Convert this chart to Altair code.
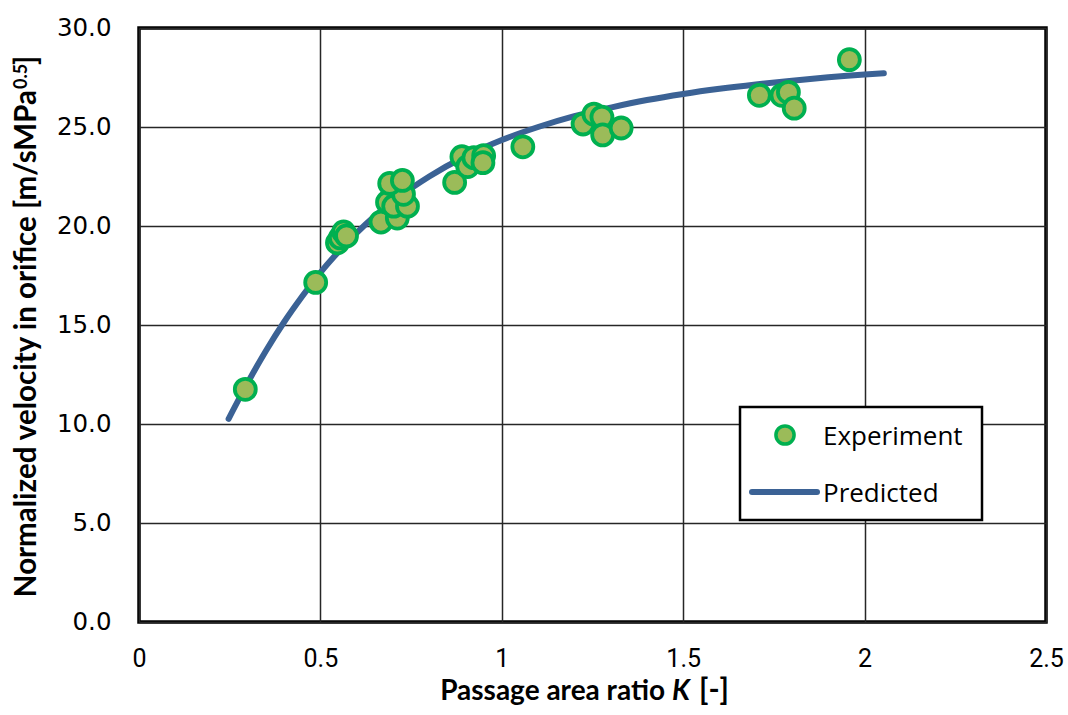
import altair as alt
import pandas as pd

# ---------------- data ----------------
exp_k = [0.293, 0.487, 0.547, 0.555, 0.564, 0.572, 0.667, 0.712, 0.685, 0.702,
         0.740, 0.729, 0.691, 0.726, 0.870, 0.890, 0.906, 0.923, 0.950, 0.948,
         1.058, 1.224, 1.254, 1.276, 1.278, 1.329, 1.710, 1.772, 1.790, 1.806,
         1.958]
exp_v = [11.75, 17.15, 19.15, 19.40, 19.70, 19.50, 20.20, 20.40, 21.20, 21.00,
         21.00, 21.60, 22.15, 22.30, 22.20, 23.50, 23.00, 23.45, 23.55, 23.20,
         24.00, 25.15, 25.65, 25.50, 24.60, 24.95, 26.60, 26.60, 26.75, 25.95,
         28.40]

pred_k = [0.247, 0.30, 0.35, 0.40, 0.45, 0.50, 0.55, 0.60, 0.65, 0.70, 0.75,
          0.80, 0.90, 1.00, 1.10, 1.20, 1.30, 1.40, 1.50, 1.60, 1.70, 1.80,
          1.90, 2.00, 2.053]
pred_v = [10.26, 12.10, 13.70, 15.15, 16.45, 17.65, 18.70, 19.65, 20.50, 21.25,
          21.90, 22.50, 23.52, 24.34, 25.00, 25.55, 25.98, 26.36, 26.67, 26.93,
          27.15, 27.34, 27.51, 27.65, 27.71]

x_ticks = [0, 0.5, 1, 1.5, 2, 2.5]
y_ticks = [0, 5, 10, 15, 20, 25, 30]

legend_labels = ["Experiment", "Predicted"]
x_title_parts = ["Passage area ratio", "K", "[-]"]
y_title_parts = ["Normalized velocity in orifice [m/sMPa", "0.5", "]"]

# ---------------- layout ----------------
W, H = 907, 594
PAD_L, PAD_T = 139, 28

exp_df = pd.DataFrame({"K": exp_k, "V": exp_v})
pred_df = pd.DataFrame({"K": pred_k, "V": pred_v})
one = pd.DataFrame({"a": [0]})

FILL = "#9BBB59"
EDGE = "#00B050"
LINE = "#3B6295"
TITLE_FONT = "Lato"

xs = alt.Scale(domain=[0, 2.5], nice=False, zero=False)
ys = alt.Scale(domain=[0, 30], nice=False, zero=False)

x_axis = alt.Axis(values=x_ticks, format="~g", title=None, grid=True,
                  domain=False, ticks=False, labelFont="Roboto",
                  labelFontSize=25, labelColor="black", labelPadding=24,
                  labelFlush=False,
                  gridColor="#262626", gridWidth=1.5, gridOpacity=1)
y_axis = alt.Axis(values=y_ticks, format=".1f", title=None, grid=True,
                  domain=False, ticks=False, labelFont="DejaVu Sans",
                  labelFontSize=24.5, labelColor="black", labelPadding=28,
                  labelFlush=False,
                  gridColor="#262626", gridWidth=1.5, gridOpacity=1)

line = alt.Chart(pred_df).mark_line(
    color=LINE, strokeWidth=6, strokeCap="round", strokeJoin="round",
    interpolate="monotone"
).encode(
    x=alt.X("K:Q", scale=xs, axis=x_axis),
    y=alt.Y("V:Q", scale=ys, axis=y_axis),
    order="K:Q",
)

points = alt.Chart(exp_df).mark_point(
    shape="circle", filled=True, fill=FILL, stroke=EDGE, strokeWidth=3.8,
    size=440, opacity=1, fillOpacity=1, strokeOpacity=1
).encode(
    x=alt.X("K:Q", scale=xs),
    y=alt.Y("V:Q", scale=ys),
)

# ---------------- legend ----------------
lg_box = alt.Chart(one).mark_rect(
    fill="white", stroke="black", strokeWidth=2.5
).encode(
    x=alt.value(740 - PAD_L), x2=alt.value(982 - PAD_L),
    y=alt.value(407 - PAD_T), y2=alt.value(520 - PAD_T),
)
lg_pt = alt.Chart(one).mark_point(
    shape="circle", filled=True, fill=FILL, stroke=EDGE, strokeWidth=3.5,
    size=330, opacity=1
).encode(x=alt.value(785 - PAD_L), y=alt.value(435 - PAD_T))
lg_line = alt.Chart(one).mark_rule(
    color=LINE, strokeWidth=6, strokeCap="round"
).encode(
    x=alt.value(752 - PAD_L), x2=alt.value(817 - PAD_L),
    y=alt.value(492 - PAD_T),
)
lg_txt1 = alt.Chart(one).mark_text(
    text=legend_labels[0], font="Open Sans", fontSize=26, align="left",
    baseline="alphabetic", color="black"
).encode(x=alt.value(823 - PAD_L), y=alt.value(445 - PAD_T))
lg_txt2 = alt.Chart(one).mark_text(
    text=legend_labels[1], font="Open Sans", fontSize=26, align="left",
    baseline="alphabetic", color="black"
).encode(x=alt.value(823 - PAD_L), y=alt.value(502 - PAD_T))

# ---------------- axis titles (mixed styles) ----------------
xt_base = 700 - PAD_T
xt1 = alt.Chart(one).mark_text(
    text=x_title_parts[0], font=TITLE_FONT, fontSize=28, fontWeight="bold",
    align="right", baseline="alphabetic", color="black"
).encode(x=alt.value(665 - PAD_L), y=alt.value(xt_base))
xt2 = alt.Chart(one).mark_text(
    text=x_title_parts[1], font=TITLE_FONT, fontSize=28, fontWeight="bold",
    fontStyle="italic", align="left", baseline="alphabetic", color="black"
).encode(x=alt.value(672 - PAD_L), y=alt.value(xt_base))
xt3 = alt.Chart(one).mark_text(
    text=x_title_parts[2], font=TITLE_FONT, fontSize=30, fontWeight="bold",
    align="left", baseline="alphabetic", color="black"
).encode(x=alt.value(699 - PAD_L), y=alt.value(xt_base))

yt1 = alt.Chart(one).mark_text(
    text=y_title_parts[0], font=TITLE_FONT, fontSize=29.5, fontWeight="bold",
    align="right", baseline="alphabetic", angle=270, color="black"
).encode(x=alt.value(36 - PAD_L), y=alt.value(90 - PAD_T))
yt2 = alt.Chart(one).mark_text(
    text=y_title_parts[1], font=TITLE_FONT, fontSize=18, fontWeight="bold",
    align="left", baseline="alphabetic", angle=270, color="black"
).encode(x=alt.value(27 - PAD_L), y=alt.value(89 - PAD_T))
yt3 = alt.Chart(one).mark_text(
    text=y_title_parts[2], font=TITLE_FONT, fontSize=29.5, fontWeight="bold",
    align="left", baseline="alphabetic", angle=270, color="black"
).encode(x=alt.value(36 - PAD_L), y=alt.value(65 - PAD_T))

chart = alt.layer(
    line, points, lg_box, lg_pt, lg_line, lg_txt1, lg_txt2,
    xt1, xt2, xt3, yt1, yt2, yt3
).properties(
    width=W, height=H,
    padding={"left": PAD_L, "top": PAD_T, "right": 1068 - PAD_L - W,
             "bottom": 715 - PAD_T - H},
    autosize=alt.AutoSizeParams(type="none"),
    background="white",
).configure_view(
    stroke="black", strokeWidth=3.5
)

chart.save("out.html", embed_options={"renderer": "svg", "actions": False})
